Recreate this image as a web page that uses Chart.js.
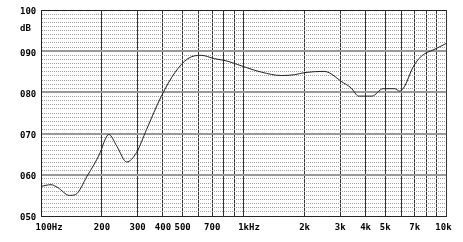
<!DOCTYPE html>
<html>
<head>
<meta charset="utf-8">
<script src="https://cdn.jsdelivr.net/npm/chart.js@4.4.0/dist/chart.umd.min.js"></script>
<style>
  html, body { margin: 0; padding: 0; background: #fff; }
  #wrap { width: 463px; height: 242px; }
</style>
</head>
<body>
<div id="wrap"><canvas id="myChart"></canvas></div>
<script>
// Frecuencias (Hz) y nivel (dB)
const freqHz = [100, 112, 121, 138, 148, 169, 196, 207, 216, 237, 265, 296, 332, 392, 458, 531, 617, 717,
  830, 930, 1037, 1228, 1536, 1786, 2000, 2497, 2640, 3030, 3391, 3698, 4305, 4880, 5580, 5900, 6240,
  6840, 7550, 8710, 9760, 10000];
const levelDb = [57.2, 57.6, 56.9, 55.0, 55.2, 59.7, 65.4, 68.5, 69.8, 66.9, 63.1, 65.4, 71.0, 79.0, 84.8,
  88.2, 89.0, 88.2, 87.6, 86.8, 86.0, 84.9, 84.1, 84.3, 84.8, 85.1, 84.8, 82.7, 81.1, 79.1, 79.1, 80.9,
  80.9, 80.3, 81.5, 86.0, 88.8, 90.4, 91.6, 91.9];

// Marcas del eje X y sus etiquetas
const xTicks = [100, 200, 300, 400, 500, 600, 700, 800, 900, 1000, 2000, 3000, 4000, 5000, 6000, 7000, 8000, 9000, 10000];
const xLabels = { 100: '   100Hz', 200: '200', 300: '300', 400: '400', 500: '500', 700: '700',
  1000: '  1kHz', 2000: '2k', 3000: '3k', 4000: '4k', 5000: '5k', 7000: '7k', 10000: '10k ' };

// Etiquetas del eje Y
const yLabels = { 100: '100', 96: 'dB', 90: '090', 80: '080', 70: '070', 60: '060', 50: '050' };

const labelFont = { family: 'DejaVu Sans Mono', size: 9, weight: 'bold' };

document.addEventListener('DOMContentLoaded', function() {
  let points = freqHz.map((f, i) => ({ x: f, y: levelDb[i] }));

  let ctx = document.getElementById('myChart').getContext('2d');

  let myChart = new Chart(ctx, {
    type: 'line',
    data: {
      datasets: [{
        data: points,
        borderColor: '#222',
        borderWidth: 1,
        pointRadius: 0,
        cubicInterpolationMode: 'monotone',
        fill: false
      }]
    },
    options: {
      responsive: true,
      maintainAspectRatio: false,
      animation: false,
      layout: { padding: { left: 20, top: 10, right: 11, bottom: 0 } },
      plugins: { legend: { display: false }, tooltip: { enabled: false } },
      scales: {
        x: {
          type: 'logarithmic',
          min: 100,
          max: 10000,
          afterBuildTicks: axis => { axis.ticks = xTicks.map(v => ({ value: v })); },
          afterFit: axis => { axis.height = 26; },
          ticks: {
            autoSkip: false,
            maxRotation: 0,
            padding: 6,
            color: '#000',
            font: labelFont,
            callback: v => xLabels[v] ?? ''
          },
          grid: { color: '#333', lineWidth: 1, drawTicks: false },
          border: { color: '#222' }
        },
        y: {
          min: 50,
          max: 100,
          afterBuildTicks: axis => {
            let t = [];
            for (let v = 50; v <= 100; v++) t.push({ value: v });
            axis.ticks = t;
          },
          afterFit: axis => { axis.width = 21; },
          ticks: {
            autoSkip: false,
            crossAlign: 'far',
            labelOffset: 2,
            color: '#000',
            font: labelFont,
            callback: v => yLabels[v] ?? ''
          },
          grid: {
            drawTicks: false,
            // líneas principales más gruesas, secundarias punteadas
            lineWidth: c => {
              let v = c.tick ? c.tick.value : 0;
              return (v % 10 === 0 && v !== 50 && v !== 100) ? 2 : 1;
            },
            color: c => {
              let v = c.tick ? c.tick.value : 0;
              if (v === 50 || v === 100) return '#222';
              if (v % 10 === 0) return '#999';
              return '#a0a0a0';
            }
          },
          border: {
            color: '#222',
            dash: c => (c.tick && c.tick.value % 10 !== 0) ? [1, 1] : []
          }
        }
      }
    }
  });
});
</script>
</body>
</html>
